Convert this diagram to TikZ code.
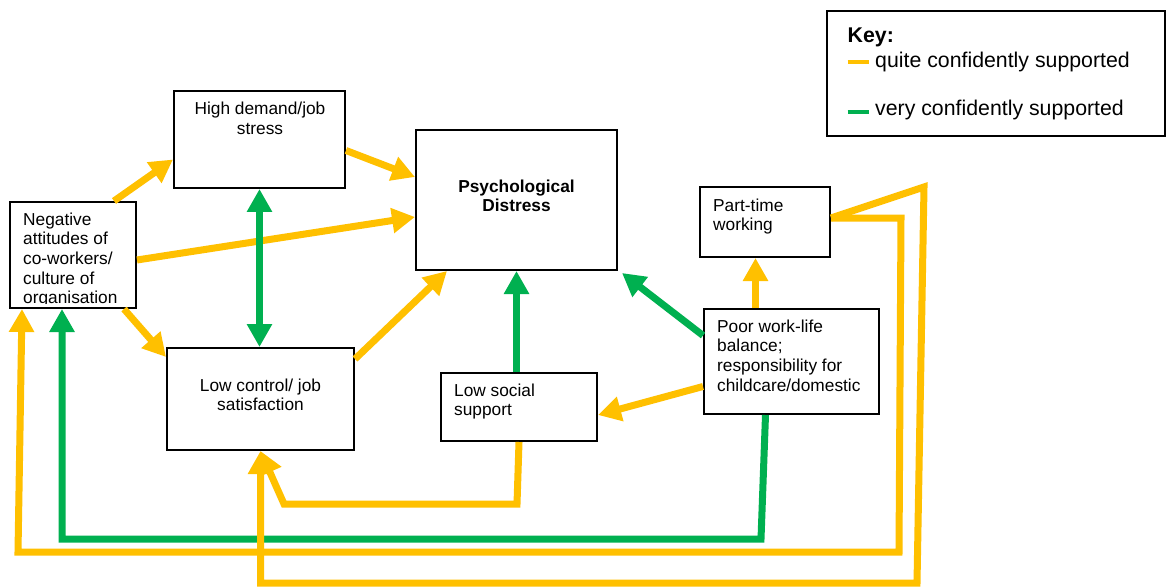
\documentclass[tikz,border=0pt]{standalone}
\usepackage{fontspec}
\setmainfont{Liberation Sans}
\usetikzlibrary{arrows.meta}
\definecolor{quite}{RGB}{255,192,0}
\definecolor{very}{RGB}{0,176,80}
\begin{document}
\begin{tikzpicture}[x=1pt,y=-1pt,
  box/.style={draw=black, line width=2pt, fill=white, inner sep=0pt},
  txt/.style={font=\fontsize{17.3}{19.6}\selectfont, inner sep=0pt},
  keytxt/.style={font=\fontsize{21.3}{24}\selectfont, inner sep=0pt},
  >={Triangle[length=23pt,width=24pt]},
  link/.style={line width=7pt, ->},
  qc/.style={link, draw=quite},
  vc/.style={link, draw=very},
]
\useasboundingbox[fill=white] (0,0) rectangle (1172,588);

% boxes
\node[box, minimum width=171pt, minimum height=97pt]  (hd)  at (259.5,139.5) {};
\node[box, minimum width=201pt, minimum height=140pt] (pd)  at (516.5,200) {};
\node[box, minimum width=126pt, minimum height=106pt] (neg) at (73,255) {};
\node[box, minimum width=187pt, minimum height=102pt] (lc)  at (260.5,399) {};
\node[box, minimum width=156pt, minimum height=68pt]  (ls)  at (519,407) {};
\node[box, minimum width=130pt, minimum height=70pt]  (pt)  at (765,222) {};
\node[box, minimum width=175pt, minimum height=105pt] (pw)  at (791.5,361.5) {};
\node[box, minimum width=338pt, minimum height=125pt] (key) at (996,73.5) {};

% box texts
\node[txt, anchor=north, align=center] (hdt) at (260,101.9) {High demand/job\\stress};
\node[txt, anchor=north, align=center, font=\bfseries\fontsize{17.3}{19.6}\selectfont] (pdt) at (516.5,179.3) {Psychological\\Distress};
\begin{scope}
  \clip (neg.north west) rectangle ([yshift=6pt]neg.south east);
  \node[txt, anchor=north west, align=left] (negt) at (23,212.6) {Negative\\attitudes of\\co-workers/\\culture of\\organisation};
\end{scope}
\node[txt, anchor=north, align=center] (lct) at (260.5,378.6) {Low control/ job\\satisfaction};
\node[txt, anchor=north west, align=left] (lst) at (454,383.6) {Low social\\support};
\node[txt, anchor=north west, align=left] (ptt) at (713,198.6) {Part-time\\working};
\node[txt, anchor=north west, align=left] (pwt) at (717,319.6) {Poor work-life\\balance;\\responsibility for\\childcare/domestic};

% key
\node[keytxt, font=\bfseries\fontsize{21.3}{24}\selectfont, anchor=base west] (keyh) at (847.5,42.6) {Key:};
\node[keytxt, anchor=base west] (kq) at (875,68) {quite confidently supported};
\node[keytxt, anchor=base west] (kv) at (875,116) {very confidently supported};
\draw[quite, line width=4.5pt] (847.5,62) -- (868.6,62);
\draw[very, line width=4.5pt] (847.5,112) -- (868.6,112);

% long return routes along the bottom
\draw[vc] ([xshift=-26pt]pw.south) -- (761,539) -- (62,539) -- ([xshift=-11pt]neg.south);
\draw[qc] ([yshift=4pt]pt.east) -- (901,218) -- (899,552) -- (18,552) -- ([xshift=-51pt]neg.south);
\draw[qc] (ls.south) -- (517,504) -- (284,504) -- (lc.south);
\draw[qc] ([yshift=4pt]pt.east) -- (924,187) -- (917,583) -- (260.5,583) -- (lc.south);

% direct links
\draw[qc] ([xshift=-23pt]neg.north east) -- ([yshift=-20pt]hd.west);
\draw[qc] ([yshift=-11pt]hd.east) -- ([yshift=23pt]pd.west);
\draw[qc] ([yshift=-5pt]neg.east) -- ([yshift=-17pt]pd.west);
\draw[qc] ([xshift=-13pt]neg.south east) -- ([yshift=-10pt]lc.north west);
\draw[qc] ([yshift=-12pt]lc.north east) -- ([xshift=32pt]pd.south west);
\draw[very, line width=7pt, <->] (hd.south) -- (hd.south |- lc.north);
\draw[vc] (pd.south |- ls.north) -- (pd.south);
\draw[vc] ([yshift=26pt]pw.west) -- ([xshift=4pt,yshift=-2pt]pd.south east);
\draw[qc] ([yshift=-25pt]pw.west) -- ([yshift=-8pt]ls.east);
\draw[qc] ([xshift=-36pt]pw.north) -- ([xshift=-36pt]pw.north |- pt.south);
\end{tikzpicture}
\end{document}
